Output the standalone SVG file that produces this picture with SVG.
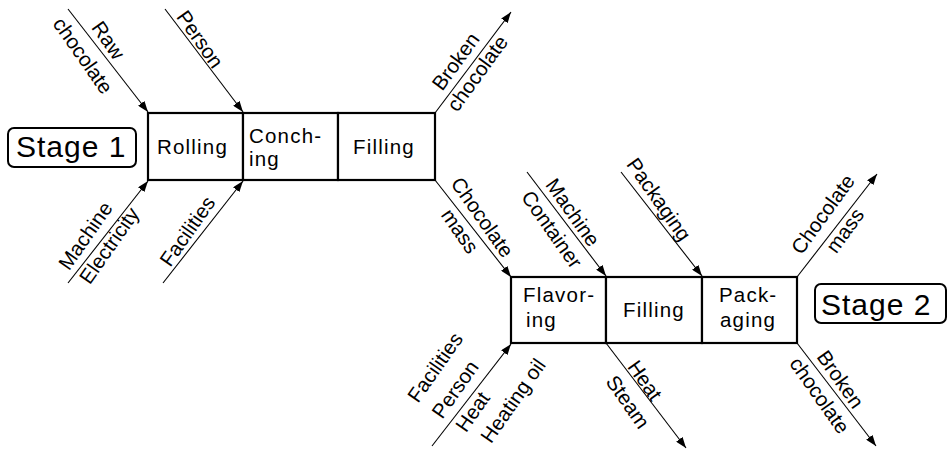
<svg xmlns="http://www.w3.org/2000/svg" width="949" height="451" viewBox="0 0 949 451">
<style>
text{font-family:"Liberation Sans",Arial,sans-serif;fill:#000}
.box{fill:#fff;stroke:#000;stroke-width:2.2}
.stage{fill:#fff;stroke:#000;stroke-width:2;}
.st{font-size:30px;letter-spacing:1px}
.bt{font-size:20.5px;letter-spacing:1.2px}
.lbl{font-size:20.5px;text-anchor:middle}
.con line{stroke:#000;stroke-width:1.1;marker-end:url(#ah)}
</style>
<defs>
<marker id="ah" markerUnits="userSpaceOnUse" markerWidth="11" markerHeight="8" refX="11" refY="4" orient="auto">
<path d="M0,0 L11,4 L0,8 z" fill="#000"/>
</marker>
</defs>
<rect width="949" height="451" fill="#fff"/>

<g id="stage1"><rect class="stage" x="8" y="128" width="128" height="39" rx="6"/><text class="st" x="16" y="157">Stage 1</text></g>
<g id="rolling"><rect class="box" x="148" y="113" width="95" height="67"/><text class="bt" x="157" y="154">Rolling</text></g>
<g id="conching"><rect class="box" x="243" y="113" width="95" height="67"/><text class="bt" x="249" y="143">Conch-</text><text class="bt" x="249" y="166">ing</text></g>
<g id="filling1"><rect class="box" x="338" y="113" width="97" height="67"/><text class="bt" x="353" y="154">Filling</text></g>

<g id="flavoring"><rect class="box" x="511" y="277" width="95" height="66"/><text class="bt" x="523" y="302">Flavor-</text><text class="bt" x="526" y="327">ing</text></g>
<g id="filling2"><rect class="box" x="606" y="277" width="96" height="66"/><text class="bt" x="623" y="317">Filling</text></g>
<g id="packaging"><rect class="box" x="702" y="277" width="95" height="66"/><text class="bt" x="719" y="302">Pack-</text><text class="bt" x="720" y="327">aging</text></g>
<g id="stage2"><rect class="stage" x="815" y="284" width="131" height="39" rx="6"/><text class="st" x="821" y="315">Stage 2</text></g>

<g id="connectors" class="con">
<line x1="68" y1="9" x2="148" y2="112"/>
<line x1="165" y1="9" x2="243" y2="112"/>
<line x1="68" y1="283" x2="148" y2="181"/>
<line x1="163" y1="283" x2="243" y2="181"/>
<line x1="435" y1="113" x2="511" y2="12"/>
<line x1="435" y1="180" x2="511" y2="277"/>
<line x1="527" y1="172" x2="606" y2="276"/>
<line x1="621" y1="172" x2="702" y2="276"/>
<line x1="432" y1="446" x2="511" y2="344"/>
<line x1="606" y1="343" x2="686" y2="448"/>
<line x1="797" y1="277" x2="877" y2="174"/>
<line x1="797" y1="343" x2="876" y2="446"/>
</g>

<g id="connector-labels">
<text class="lbl" transform="translate(107.5,40.8) rotate(55)" y="6">Raw</text>
<text class="lbl" transform="translate(81.3,56.8) rotate(55)" y="5">chocolate</text>
<text class="lbl" transform="translate(199.2,39.9) rotate(55)" y="6">Person</text>
<text class="lbl" transform="translate(86.3,236.3) rotate(-55)" y="6">Machine</text>
<text class="lbl" transform="translate(110.9,246.7) rotate(-55)" y="5">Electricity</text>
<text class="lbl" transform="translate(188.3,231.8) rotate(-55)" y="6">Facilities</text>
<text class="lbl" transform="translate(456.5,62) rotate(-54)" y="6">Broken</text>
<text class="lbl" transform="translate(479,74.5) rotate(-54)" y="5">chocolate</text>
<text class="lbl" transform="translate(481.5,217.8) rotate(55)" y="6">Chocolate</text>
<text class="lbl" transform="translate(458.3,232.1) rotate(55)" y="5">mass</text>
<text class="lbl" transform="translate(572,213) rotate(55)" y="6">Machine</text>
<text class="lbl" transform="translate(551,230) rotate(55)" y="6">Container</text>
<text class="lbl" transform="translate(658,200) rotate(55)" y="6">Packaging</text>
<text class="lbl" transform="translate(823.7,214.8) rotate(-54)" y="6">Chocolate</text>
<text class="lbl" transform="translate(846.5,231.7) rotate(-54)" y="5">mass</text>
<text class="lbl" transform="translate(839.5,380) rotate(55)" y="6">Broken</text>
<text class="lbl" transform="translate(818,396.5) rotate(55)" y="5">chocolate</text>
<text class="lbl" transform="translate(436,368) rotate(-55)" y="6">Facilities</text>
<text class="lbl" transform="translate(456,390) rotate(-55)" y="6">Person</text>
<text class="lbl" transform="translate(473,412) rotate(-55)" y="6.5">Heat</text>
<text class="lbl" transform="translate(513.5,401) rotate(-55)" y="6.5">Heating oil</text>
<text class="lbl" transform="translate(644.5,380.7) rotate(55)" y="6.5">Heat</text>
<text class="lbl" transform="translate(627,402.5) rotate(55)" y="6">Steam</text>
</g>
</svg>
